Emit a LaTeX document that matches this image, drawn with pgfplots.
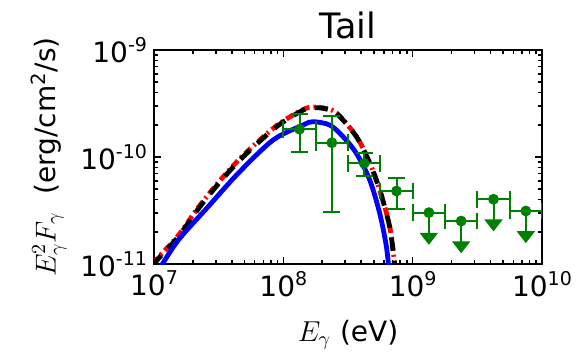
\documentclass[border=0pt]{standalone}
\usepackage{fontspec}
\setmainfont{DejaVu Sans}
\usepackage{pgfplots}
\pgfplotsset{compat=1.18}
\usetikzlibrary{arrows.meta}
\definecolor{mplgreen}{rgb}{0,0.5,0}
\newcommand\tp[1]{10\raisebox{5.5pt}{\fontsize{9.5}{10}\selectfont#1}}
\begin{document}
\begin{tikzpicture}
\begin{axis}[
  scale only axis, width=194pt, height=107pt,
  xmode=log, ymode=log,
  xmin=1e7, xmax=1e10, ymin=1e-11, ymax=1e-9,
  axis line style={line width=1pt},
  every tick/.style={black, line width=0.8pt},
  major tick length=3.5pt, minor tick length=2pt,
  tick align=inside,
  xtick={1e7,1e8,1e9,1e10},
  xticklabels={\tp{7},\tp{8},\tp{9},\tp{10}},
  ytick={1e-11,1e-10,1e-9},
  yticklabels={\tp{-11},\tp{-10},\tp{-9}},
  ticklabel style={font=\fontsize{14}{16}\selectfont},
  xlabel={$E_\gamma$ (eV)},
  ylabel={$E_\gamma^2F_\gamma$\ \ (erg/cm\textsuperscript{2}/s)},
  label style={font=\fontsize{14}{16}\selectfont},
  xlabel style={yshift=-5pt},
  title={Tail},
  title style={font=\fontsize{17.5}{20}\selectfont, yshift=-4pt},
  clip=true,
]
\coordinate (sw) at (rel axis cs:0,0);
\coordinate (ne) at (rel axis cs:1,1);
% red dash-dot model
\addplot[red, line width=2.4pt, dash pattern=on 4pt off 2pt on 1pt off 2pt, smooth] coordinates {
(9.8e6,1.0e-11) (1.112e7,1.2e-11) (1.542e7,1.85e-11) (2.265e7,3.54e-11) (3.334e7,6.28e-11) (4.898e7,1.037e-10)
(8.851e7,1.96e-10) (1.422e8,2.78e-10) (1.698e8,2.92e-10) (2.028e8,2.88e-10) (2.576e8,2.58e-10) (3.673e8,1.56e-10)
(4.656e8,8.8e-11) (5.559e8,4.95e-11) (6.637e8,2.25e-11) (7.261e8,1.0e-11) (7.413e8,7.9e-12)};
% black dashed model
\addplot[black, line width=2.4pt, dash pattern=on 6.5pt off 5pt, smooth] coordinates {
(9.8e6,9.7e-12) (1.112e7,1.169e-11) (1.542e7,1.799e-11) (2.265e7,3.436e-11) (3.334e7,6.095e-11) (4.898e7,1.007e-10)
(8.851e7,1.919e-10) (1.422e8,2.748e-10) (1.698e8,2.884e-10) (2.028e8,2.851e-10) (2.576e8,2.559e-10) (3.673e8,1.549e-10)
(4.656e8,8.73e-11) (5.559e8,4.92e-11) (6.637e8,2.234e-11) (7.261e8,1.0e-11) (7.413e8,7.94e-12)};
% blue solid model
\addplot[blue, line width=2.4pt, smooth] coordinates {
(1.122e7,9.33e-12) (1.542e7,1.675e-11) (2.624e7,3.436e-11) (4.477e7,7.047e-11) (8.337e7,1.442e-10)
(1.422e8,1.991e-10) (1.690e8,2.138e-10) (2.286e8,1.991e-10) (2.897e8,1.549e-10) (3.673e8,1.081e-10)
(4.656e8,6.095e-11) (5.559e8,2.979e-11) (6.266e8,1.452e-11) (6.607e8,7.94e-12)};
% detections
\addplot[mplgreen, only marks, mark=*, mark size=2.5pt,
  error bars/.cd, x dir=both, x explicit, y dir=both, y explicit,
  error bar style={line width=1pt},
  error mark options={rotate=90, mplgreen, line width=1pt, mark size=4.2pt}] coordinates {
(1.334e8,1.82e-10) += (0.444e8,0.70e-10) -= (0.334e8,0.70e-10)
(2.371e8,1.36e-10) += (0.791e8,1.05e-10) -= (0.593e8,1.056e-10)
(4.217e8,8.73e-11) += (1.406e8,2.07e-11) -= (1.055e8,2.09e-11)
(7.499e8,4.81e-11) += (2.501e8,1.56e-11) -= (1.876e8,1.57e-11)};
% upper limits: horizontal bars
\addplot[mplgreen, only marks, mark=*, mark size=2.5pt,
  error bars/.cd, x dir=both, x explicit,
  error bar style={line width=1pt},
  error mark options={rotate=90, mplgreen, line width=1pt, mark size=4.2pt}] coordinates {
(1.334e9,3.02e-11) += (0.444e9,0) -= (0.334e9,0)
(2.371e9,2.52e-11) += (0.791e9,0) -= (0.593e9,0)
(4.217e9,4.03e-11) += (1.406e9,0) -= (1.055e9,0)
(7.499e9,3.13e-11) += (2.501e9,0) -= (1.876e9,0)};
% upper limits: arrows
\addplot[mplgreen, only marks, mark=none,
  error bars/.cd, y dir=minus, y explicit, error mark=none,
  error bar style={mplgreen, line width=1pt, -{Triangle[width=9pt,length=6pt]}}] coordinates {
(1.334e9,3.02e-11) -= (0,1.51e-11)
(2.371e9,2.52e-11) -= (0,1.26e-11)
(4.217e9,4.03e-11) -= (0,2.015e-11)
(7.499e9,3.13e-11) -= (0,1.565e-11)};
\end{axis}
\pgfresetboundingbox
\path ([shift={(-77pt,-44.5pt)}]sw) rectangle ([shift={(17pt,25pt)}]ne);
\end{tikzpicture}
\end{document}
